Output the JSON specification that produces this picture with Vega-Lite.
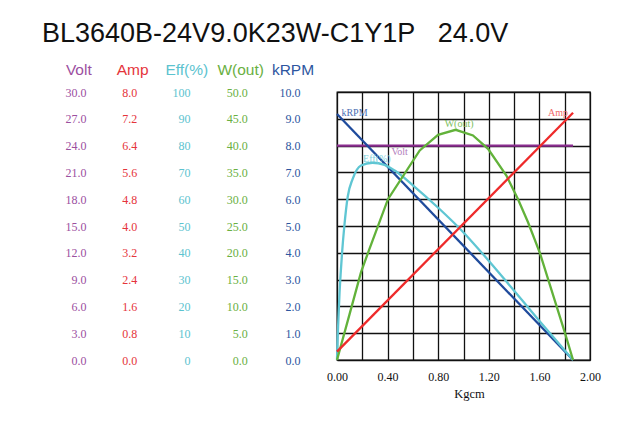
{
  "$schema": "https://vega.github.io/schema/vega-lite/v6.json",
  "width": 253,
  "height": 268,
  "padding": {"left": 42, "top": 20, "right": 10, "bottom": 10},
  "background": "white",
  "title": {
    "text": "BL3640B-24V9.0K23W-C1Y1P\u00a0\u00a0\u00a024.0V",
    "anchor": "start",
    "frame": "group",
    "dx": -295,
    "offset": 14.5,
    "font": "Liberation Sans",
    "fontSize": 27,
    "fontWeight": "normal",
    "color": "#111111"
  },
  "config": {
    "view": {"stroke": "#111111", "strokeWidth": 1.3},
    "font": "Liberation Serif",
    "axis": {
      "domain": false,
      "ticks": false,
      "tickSize": 0,
      "labelOverlap": false,
      "labelFlush": false
    }
  },
  "datasets": {
    "curves": [
      {"s": "Volt", "T": 0, "v": 24.0},
      {"s": "Volt", "T": 1.866, "v": 24.0},
      {"s": "kRPM", "T": 0, "v": 9.18},
      {"s": "kRPM", "T": 1.866, "v": 0},
      {"s": "Amp", "T": 0, "v": 0.25},
      {"s": "Amp", "T": 1.866, "v": 7.38},
      {"s": "Eff", "T": 0, "v": 0},
      {"s": "Eff", "T": 0.005, "v": 8},
      {"s": "Eff", "T": 0.01, "v": 14},
      {"s": "Eff", "T": 0.02, "v": 25},
      {"s": "Eff", "T": 0.03, "v": 33},
      {"s": "Eff", "T": 0.04, "v": 40},
      {"s": "Eff", "T": 0.058, "v": 50},
      {"s": "Eff", "T": 0.085, "v": 61},
      {"s": "Eff", "T": 0.124, "v": 67.6},
      {"s": "Eff", "T": 0.19, "v": 72.6},
      {"s": "Eff", "T": 0.28, "v": 73.6},
      {"s": "Eff", "T": 0.375, "v": 72.8},
      {"s": "Eff", "T": 0.456, "v": 70.7},
      {"s": "Eff", "T": 0.6, "v": 65.2},
      {"s": "Eff", "T": 0.8, "v": 56.8},
      {"s": "Eff", "T": 1.0, "v": 47.6},
      {"s": "Eff", "T": 1.13, "v": 40.8},
      {"s": "Eff", "T": 1.326, "v": 30.0},
      {"s": "Eff", "T": 1.602, "v": 14.5},
      {"s": "Eff", "T": 1.866, "v": 0},
      {"s": "W", "T": 0, "v": 0},
      {"s": "W", "T": 0.1, "v": 8.6},
      {"s": "W", "T": 0.19, "v": 16.4},
      {"s": "W", "T": 0.256, "v": 20.7},
      {"s": "W", "T": 0.403, "v": 30.0},
      {"s": "W", "T": 0.654, "v": 39.1},
      {"s": "W", "T": 0.799, "v": 42.0},
      {"s": "W", "T": 0.938, "v": 42.95},
      {"s": "W", "T": 1.075, "v": 41.9},
      {"s": "W", "T": 1.194, "v": 39.4},
      {"s": "W", "T": 1.339, "v": 34.4},
      {"s": "W", "T": 1.431, "v": 30.0},
      {"s": "W", "T": 1.51, "v": 25.7},
      {"s": "W", "T": 1.602, "v": 20.1},
      {"s": "W", "T": 1.8, "v": 5.2},
      {"s": "W", "T": 1.866, "v": 0}
    ],
    "tags": [
      {"s": "kRPM", "T": 0.035, "v": 9.23, "label": "kRPM"},
      {"s": "Amp", "T": 1.668, "v": 7.36, "label": "Amp"},
      {"s": "W", "T": 0.851, "v": 44.1, "label": "W(out)"},
      {"s": "Volt", "T": 0.43, "v": 23.3, "label": "Volt"},
      {"s": "Eff", "T": 0.206, "v": 75.1, "label": "Eff(%)"}
    ]
  },
  "encoding": {
    "x": {
      "field": "T",
      "type": "quantitative",
      "scale": {"domain": [0, 2], "nice": false, "zero": false},
      "axis": {
        "title": "Kgcm",
        "titleFont": "Liberation Serif",
        "titleFontSize": 12.5,
        "titleFontWeight": "normal",
        "titleColor": "#111111",
        "titlePadding": 5,
        "titleX": 132,
        "values": [0, 0.2, 0.4, 0.6, 0.8, 1.0, 1.2, 1.4, 1.6, 1.8, 2.0],
        "labelExpr": "round(datum.value * 10) % 4 == 0 ? format(datum.value, '.2f') : ''",
        "labelFont": "Liberation Serif",
        "labelFontSize": 12,
        "labelColor": "#111111",
        "labelPadding": 11.5,
        "grid": true,
        "gridColor": "#111111",
        "gridWidth": 1.3,
        "gridOpacity": 1
      }
    }
  },
  "layer": [
    {
      "encoding": {
        "y": {
          "field": "v", "type": "quantitative",
          "scale": {"domain": [0, 30], "nice": false},
          "axis": {
            "orient": "left", "offset": 251, "labelPadding": 0,
            "values": [0, 3, 6, 9, 12, 15, 18, 21, 24, 27, 30], "format": ".1f",
            "labelFont": "Liberation Serif", "labelFontSize": 12, "labelColor": "#9c4f9f", "labelBaseline": "middle",
            "grid": false,
            "title": "Volt", "titleAngle": 0, "titleAlign": "center", "titleBaseline": "middle",
            "titleX": -7.7, "titleY": -22.3,
            "titleFont": "Liberation Sans", "titleFontSize": 15.5, "titleFontWeight": "normal", "titleColor": "#9c4f9f"
          }
        }
      },
      "layer": [
        {"data": {"name": "curves"}, "transform": [{"filter": "datum.s === 'Volt'"}],
         "mark": {"type": "line", "color": "#8b2d8f", "strokeWidth": 2.2}},
        {"data": {"name": "tags"}, "transform": [{"filter": "datum.s === 'Volt'"}],
         "mark": {"type": "text", "align": "left", "baseline": "middle", "font": "Liberation Serif", "fontSize": 10, "color": "#b27cbc"},
         "encoding": {"text": {"field": "label"}}}
      ]
    },
    {
      "encoding": {
        "y": {
          "field": "v", "type": "quantitative",
          "scale": {"domain": [0, 10], "nice": false},
          "axis": {
            "orient": "left", "offset": 37, "labelPadding": 0,
            "values": [0, 1, 2, 3, 4, 5, 6, 7, 8, 9, 10], "format": ".1f",
            "labelFont": "Liberation Serif", "labelFontSize": 12, "labelColor": "#2d56a0", "labelBaseline": "middle",
            "grid": true, "gridColor": "#111111", "gridWidth": 1.3, "gridOpacity": 1,
            "title": "kRPM", "titleAngle": 0, "titleAlign": "center", "titleBaseline": "middle",
            "titleX": -7.5, "titleY": -22.3,
            "titleFont": "Liberation Sans", "titleFontSize": 15.5, "titleFontWeight": "normal", "titleColor": "#2d56a0"
          }
        }
      },
      "layer": [
        {"data": {"name": "curves"}, "transform": [{"filter": "datum.s === 'kRPM'"}],
         "mark": {"type": "line", "color": "#1f4b9c", "strokeWidth": 2.3}},
        {"data": {"name": "tags"}, "transform": [{"filter": "datum.s === 'kRPM'"}],
         "mark": {"type": "text", "align": "left", "baseline": "middle", "font": "Liberation Serif", "fontSize": 10, "color": "#4d6fb3"},
         "encoding": {"text": {"field": "label"}}}
      ]
    },
    {
      "encoding": {
        "y": {
          "field": "v", "type": "quantitative",
          "scale": {"domain": [0, 100], "nice": false},
          "axis": {
            "orient": "left", "offset": 147, "labelPadding": 0,
            "values": [0, 10, 20, 30, 40, 50, 60, 70, 80, 90, 100], "format": "d",
            "labelFont": "Liberation Serif", "labelFontSize": 12, "labelColor": "#5cc3cf", "labelBaseline": "middle",
            "grid": false,
            "title": "Eff(%)", "titleAngle": 0, "titleAlign": "center", "titleBaseline": "middle",
            "titleX": -3.7, "titleY": -22.3,
            "titleFont": "Liberation Sans", "titleFontSize": 15.5, "titleFontWeight": "normal", "titleColor": "#5cc3cf"
          }
        }
      },
      "layer": [
        {"data": {"name": "curves"}, "transform": [{"filter": "datum.s === 'Eff'"}],
         "mark": {"type": "line", "color": "#5fc6d3", "strokeWidth": 2.3, "interpolate": "monotone"}},
        {"data": {"name": "tags"}, "transform": [{"filter": "datum.s === 'Eff'"}],
         "mark": {"type": "text", "align": "left", "baseline": "middle", "font": "Liberation Serif", "fontSize": 10, "color": "#7ed0db"},
         "encoding": {"text": {"field": "label"}}}
      ]
    },
    {
      "encoding": {
        "y": {
          "field": "v", "type": "quantitative",
          "scale": {"domain": [0, 50], "nice": false},
          "axis": {
            "orient": "left", "offset": 89.7, "labelPadding": 0,
            "values": [0, 5, 10, 15, 20, 25, 30, 35, 40, 45, 50], "format": ".1f",
            "labelFont": "Liberation Serif", "labelFontSize": 12, "labelColor": "#6ab042", "labelBaseline": "middle",
            "grid": false,
            "title": "W(out)", "titleAngle": 0, "titleAlign": "center", "titleBaseline": "middle",
            "titleX": -7.1, "titleY": -22.3,
            "titleFont": "Liberation Sans", "titleFontSize": 15.5, "titleFontWeight": "normal", "titleColor": "#6ab042"
          }
        }
      },
      "layer": [
        {"data": {"name": "curves"}, "transform": [{"filter": "datum.s === 'W'"}],
         "mark": {"type": "line", "color": "#62b23a", "strokeWidth": 2.3}},
        {"data": {"name": "tags"}, "transform": [{"filter": "datum.s === 'W'"}],
         "mark": {"type": "text", "align": "left", "baseline": "middle", "font": "Liberation Serif", "fontSize": 10, "color": "#7cc05e"},
         "encoding": {"text": {"field": "label"}}}
      ]
    },
    {
      "encoding": {
        "y": {
          "field": "v", "type": "quantitative",
          "scale": {"domain": [0, 8], "nice": false},
          "axis": {
            "orient": "left", "offset": 200.3, "labelPadding": 0,
            "values": [0, 0.8, 1.6, 2.4, 3.2, 4, 4.8, 5.6, 6.4, 7.2, 8], "format": ".1f",
            "labelFont": "Liberation Serif", "labelFontSize": 12, "labelColor": "#e5343b", "labelBaseline": "middle",
            "grid": false,
            "title": "Amp", "titleAngle": 0, "titleAlign": "center", "titleBaseline": "middle",
            "titleX": -4.5, "titleY": -22.3,
            "titleFont": "Liberation Sans", "titleFontSize": 15.5, "titleFontWeight": "normal", "titleColor": "#e5343b"
          }
        }
      },
      "layer": [
        {"data": {"name": "curves"}, "transform": [{"filter": "datum.s === 'Amp'"}],
         "mark": {"type": "line", "color": "#ee2a2a", "strokeWidth": 2.3}},
        {"data": {"name": "tags"}, "transform": [{"filter": "datum.s === 'Amp'"}],
         "mark": {"type": "text", "align": "left", "baseline": "middle", "font": "Liberation Serif", "fontSize": 10, "color": "#f06a6a"},
         "encoding": {"text": {"field": "label"}}}
      ]
    }
  ],
  "resolve": {"scale": {"y": "independent"}, "axis": {"y": "independent"}}
}
